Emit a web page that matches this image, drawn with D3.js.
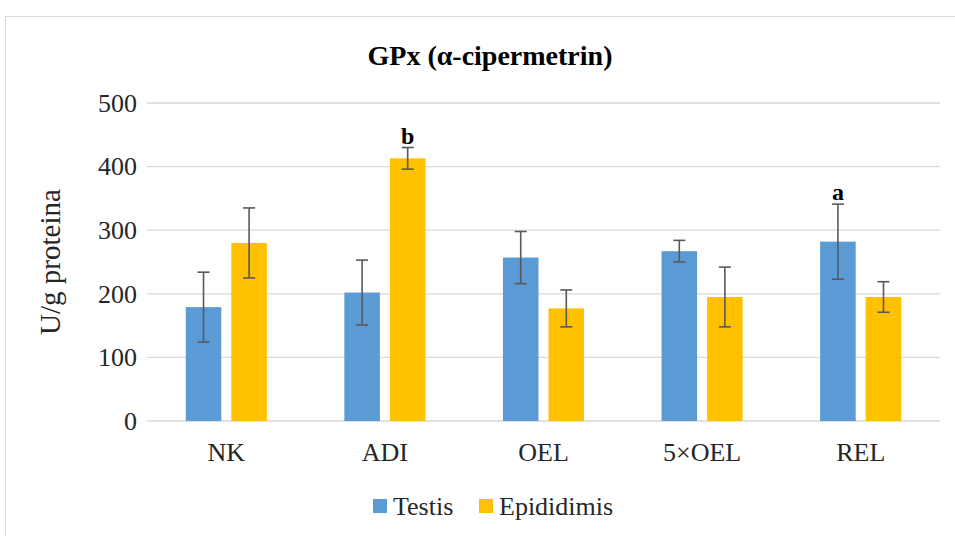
<!DOCTYPE html>
<html>
<head>
<meta charset="utf-8">
<script src="https://cdn.jsdelivr.net/npm/d3@7"></script>
<style>
  body { margin: 0; background: #fff; }
  svg text { font-family: "Liberation Serif", serif !important; }
</style>
</head>
<body>
<div id="chart"></div>
<script>
// data
const categories = ["NK", "ADI", "OEL", "5×OEL", "REL"];
const seriesNames = ["Testis", "Epididimis"];
const testis = [179, 202, 257, 267, 282];
const testisErr = [55, 51, 41, 17, 59];
const epididimis = [280, 413, 177, 195, 195];
const epididimisErr = [55, 17, 29, 47, 24];
const yTicks = [0, 100, 200, 300, 400, 500];
// significance letters: [category index, series index, letter]
const marks = [[1, 1, "b"], [4, 0, "a"]];

const colors = ["#5B9BD5", "#FFC000"];

const width = 955, height = 536;
const margin = { top: 103, right: 15, bottom: 115, left: 147 };

const svg = d3.select("#chart")
  .append("svg")
  .attr("width", width)
  .attr("height", height);

// outer chart border
svg.append("rect")
  .attr("x", 5.5).attr("y", 16.5)
  .attr("width", width).attr("height", height)
  .attr("fill", "none")
  .attr("stroke", "#d9d9d9");

const x0 = d3.scaleBand()
  .domain(categories)
  .range([margin.left, width - margin.right]);

const x1 = d3.scaleBand()
  .domain(seriesNames)
  .range([0, x0.bandwidth()])
  .paddingInner(0.22)
  .paddingOuter(0.85);

const y = d3.scaleLinear()
  .domain([0, 500])
  .range([height - margin.bottom, margin.top]);

// gridlines
svg.append("g")
  .selectAll("line")
  .data(yTicks)
  .enter()
  .append("line")
  .attr("x1", margin.left)
  .attr("x2", width - margin.right)
  .attr("y1", d => y(d))
  .attr("y2", d => y(d))
  .attr("stroke", "#d9d9d9")
  .attr("stroke-width", 1.3);

// y axis labels
const yAxis = svg.append("g")
  .attr("transform", "translate(" + (margin.left - 10) + ",0)")
  .call(d3.axisLeft(y).tickValues(yTicks).tickSize(0).tickPadding(0));
yAxis.select(".domain").remove();
yAxis.attr("font-size", 26);
yAxis.selectAll("text").attr("fill", "#262626");

// x axis labels
const xAxis = svg.append("g")
  .attr("transform", "translate(0," + y(0) + ")")
  .call(d3.axisBottom(x0).tickSize(0).tickPadding(22));
xAxis.select(".domain").remove();
xAxis.attr("font-size", 26);
xAxis.selectAll("text").attr("fill", "#262626");

const rows = categories.map((c, i) => ({
  cat: c,
  vals: [
    { s: seriesNames[0], v: testis[i], e: testisErr[i], k: 0 },
    { s: seriesNames[1], v: epididimis[i], e: epididimisErr[i], k: 1 }
  ]
}));

const groups = svg.append("g")
  .selectAll("g")
  .data(rows)
  .enter()
  .append("g")
  .attr("transform", d => "translate(" + x0(d.cat) + ",0)");

groups.selectAll("rect")
  .data(d => d.vals)
  .enter()
  .append("rect")
  .attr("x", d => x1(d.s))
  .attr("y", d => y(d.v))
  .attr("width", x1.bandwidth())
  .attr("height", d => y(0) - y(d.v))
  .attr("fill", d => colors[d.k]);

// error bars
const err = groups.selectAll(".err")
  .data(d => d.vals)
  .enter()
  .append("g")
  .attr("class", "err")
  .attr("stroke", "#595959")
  .attr("stroke-width", 1.6);

err.append("line")
  .attr("x1", d => x1(d.s) + x1.bandwidth() / 2)
  .attr("x2", d => x1(d.s) + x1.bandwidth() / 2)
  .attr("y1", d => y(d.v + d.e))
  .attr("y2", d => y(d.v - d.e));
[1, -1].forEach(sign => {
  err.append("line")
    .attr("x1", d => x1(d.s) + x1.bandwidth() / 2 - 6)
    .attr("x2", d => x1(d.s) + x1.bandwidth() / 2 + 6)
    .attr("y1", d => y(d.v + sign * d.e))
    .attr("y2", d => y(d.v + sign * d.e));
});

// significance letters
svg.selectAll(".mark")
  .data(marks)
  .enter()
  .append("text")
  .attr("class", "mark")
  .attr("x", d => x0(categories[d[0]]) + x1(seriesNames[d[1]]) + x1.bandwidth() / 2)
  .attr("y", d => {
    const v = d[1] === 0 ? testis[d[0]] + testisErr[d[0]] : epididimis[d[0]] + epididimisErr[d[0]];
    return y(v) - 4;
  })
  .attr("text-anchor", "middle")
  .attr("font-size", 24)
  .attr("font-weight", "bold")
  .attr("fill", "#000")
  .text(d => d[2]);

// title
svg.append("text")
  .attr("x", 490)
  .attr("y", 65)
  .attr("text-anchor", "middle")
  .attr("font-size", 28)
  .attr("font-weight", "bold")
  .attr("fill", "#000")
  .text("GPx (α-cipermetrin)");

// y axis title
svg.append("text")
  .attr("transform", "translate(60," + y(250) + ") rotate(-90)")
  .attr("text-anchor", "middle")
  .attr("font-size", 29)
  .attr("fill", "#262626")
  .text("U/g proteina");

// legend
const legend = svg.append("g").attr("transform", "translate(373,499)");
const legendX = [0, 106];
seriesNames.forEach((s, i) => {
  legend.append("rect")
    .attr("x", legendX[i])
    .attr("y", 0)
    .attr("width", 14)
    .attr("height", 14)
    .attr("fill", colors[i]);
  legend.append("text")
    .attr("x", legendX[i] + 20)
    .attr("y", 16)
    .attr("font-size", 26)
    .attr("fill", "#262626")
    .text(s);
});
</script>
</body>
</html>
